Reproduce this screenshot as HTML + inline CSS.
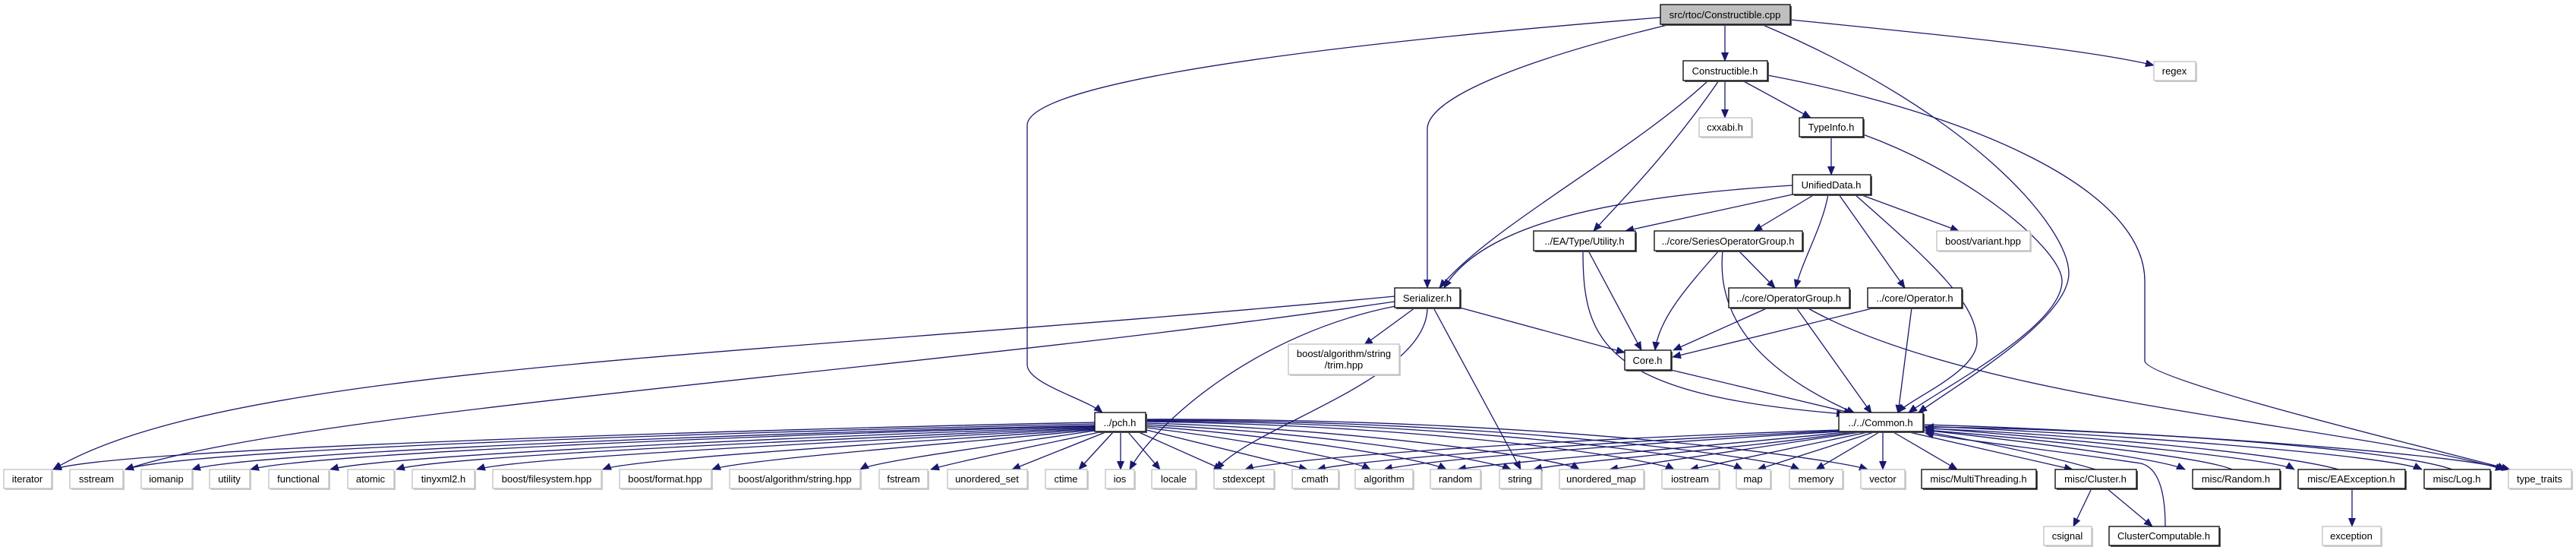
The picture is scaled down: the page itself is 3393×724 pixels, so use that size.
<!DOCTYPE html>
<html><head><meta charset="utf-8"><style>
html,body{margin:0;padding:0;background:#fff;}
svg{display:block;}
text{font-family:"Liberation Sans",sans-serif;font-size:13px;fill:#000;}
.e{fill:none;stroke:#191970;stroke-width:1.3;marker-end:url(#a);}
.d{fill:#fff;stroke:#000;stroke-width:1.3;}
.x{fill:#fff;stroke:#bfbfbf;stroke-width:1.3;}
.sd{fill:#555;}
.sx{fill:#ccc;}
</style></head><body>
<svg width="3393" height="724" viewBox="0 0 3393 724" xmlns="http://www.w3.org/2000/svg">
<defs><marker id="a" markerUnits="userSpaceOnUse" markerWidth="12" markerHeight="10" refX="11" refY="5" orient="auto"><path d="M0,0 L12,5 L0,10 Z" fill="#191970"/></marker></defs>
<g>
<path class="e" d="M2187,23 C1600,70 1353,120 1353,165 L1353,480 C1353,505 1430,525 1452,543"/>
<path class="e" d="M2200,32 C2000,80 1880,130 1880,170 L1880,379"/>
<path class="e" d="M2272,32 L2272,80"/>
<path class="e" d="M2320,32 C2600,150 2725,300 2725,360 C2725,420 2580,505 2527,543"/>
<path class="e" d="M2358,26 C2550,45 2750,65 2837,86"/>
<path class="e" d="M2328,99 C2600,150 2825,250 2825,370 L2825,475 C2825,500 3200,590 3306,618"/>
<path class="e" d="M2272,106 L2272,155"/>
<path class="e" d="M2295,106 L2385,155"/>
<path class="e" d="M2250,106 C2150,200 1960,300 1896,379"/>
<path class="e" d="M2264,106 C2200,200 2130,270 2099,304"/>
<path class="e" d="M2412,180 L2412,230"/>
<path class="e" d="M2454,177 C2600,230 2716,330 2716,370 C2716,430 2560,510 2514,543"/>
<path class="e" d="M2361,244 C2100,260 1950,300 1902,379"/>
<path class="e" d="M2361,256 L2141,304"/>
<path class="e" d="M2390,256 L2310,304"/>
<path class="e" d="M2408,256 C2400,300 2375,340 2365,379"/>
<path class="e" d="M2422,256 L2509,379"/>
<path class="e" d="M2443,256 C2550,350 2604,400 2604,450 C2604,490 2515,525 2500,543"/>
<path class="e" d="M2450,256 L2580,304"/>
<path class="e" d="M2092,330 L2162,461"/>
<path class="e" d="M2085,330 C2085,450 2110,520 2430,545"/>
<path class="e" d="M2264,330 C2220,380 2185,420 2180,461"/>
<path class="e" d="M2290,330 L2338,379"/>
<path class="e" d="M2269,330 C2260,420 2320,490 2443,544"/>
<path class="e" d="M1923,405 L2140,464"/>
<path class="e" d="M1864,405 L1797,454"/>
<path class="e" d="M1888,405 L2003,618"/>
<path class="e" d="M1880,405 C1880,500 1650,560 1602,618"/>
<path class="e" d="M1838,403 C1650,440 1520,560 1488,618"/>
<path class="e" d="M1837,390 C1000,470 300,480 70,618"/>
<path class="e" d="M1837,397 C1200,490 400,540 165,618"/>
<path class="e" d="M2201,487 L2440,544"/>
<path class="e" d="M2329,405 L2204,461"/>
<path class="e" d="M2366,405 L2465,544"/>
<path class="e" d="M2380,405 C2600,530 3100,560 3298,618"/>
<path class="e" d="M2470,405 L2203,470"/>
<path class="e" d="M2518,405 L2500,544"/>
<!-- pch edges -->
<path class="e" d="M1442,556 C1000,565 150,590 70,618"/>
<path class="e" d="M1442,558 C1000,568 250,590 165,618"/>
<path class="e" d="M1442,560 C1000,570 330,595 253,618"/>
<path class="e" d="M1442,561 C1000,572 400,598 330,618"/>
<path class="e" d="M1442,562 C1050,575 500,600 435,618"/>
<path class="e" d="M1442,563 C1100,578 580,600 522,618"/>
<path class="e" d="M1442,564 C1150,580 680,602 628,618"/>
<path class="e" d="M1442,565 C1200,582 830,604 794,618"/>
<path class="e" d="M1442,566 C1250,584 970,606 938,618"/>
<path class="e" d="M1442,567 C1300,588 1150,608 1133,618"/>
<path class="e" d="M1448,569 C1350,590 1250,610 1226,618"/>
<path class="e" d="M1456,569 L1333,618"/>
<path class="e" d="M1466,569 L1421,618"/>
<path class="e" d="M1476,569 L1476,618"/>
<path class="e" d="M1486,569 L1528,618"/>
<path class="e" d="M1500,569 L1610,618"/>
<path class="e" d="M1510,566 L1722,618"/>
<path class="e" d="M1510,563 C1650,580 1780,605 1805,618"/>
<path class="e" d="M1510,561 C1700,575 1880,605 1905,618"/>
<path class="e" d="M1510,559 C1750,570 1960,605 1990,618"/>
<path class="e" d="M1510,557 C1800,565 2060,605 2080,618"/>
<path class="e" d="M1510,555 C1900,560 2180,605 2205,618"/>
<path class="e" d="M1510,554 C1950,556 2270,605 2295,618"/>
<path class="e" d="M1510,553 C2000,553 2340,605 2370,618"/>
<path class="e" d="M1510,552 C2050,550 2420,605 2460,618"/>
<!-- Common edges -->
<path class="e" d="M2424,566 C2000,580 1680,605 1640,618"/>
<path class="e" d="M2424,567 C2100,582 1790,605 1735,618"/>
<path class="e" d="M2424,568 C2150,584 1880,605 1823,618"/>
<path class="e" d="M2430,569 C2250,588 1980,608 1920,618"/>
<path class="e" d="M2440,569 C2300,590 2060,608 2020,618"/>
<path class="e" d="M2450,569 L2120,618"/>
<path class="e" d="M2460,569 L2226,618"/>
<path class="e" d="M2468,569 L2315,618"/>
<path class="e" d="M2475,569 L2392,618"/>
<path class="e" d="M2480,569 L2480,618"/>
<path class="e" d="M2494,569 L2578,618"/>
<path class="e" d="M2515,569 L2730,618"/>
<path class="e" d="M2534,566 C2700,585 2850,605 2878,618"/>
<path class="e" d="M2534,563 C2750,580 3000,605 3022,618"/>
<path class="e" d="M2534,561 C2800,572 3150,600 3190,618"/>
<path class="e" d="M2534,559 C2850,568 3260,600 3300,618"/>
<path class="e" d="M2760,618 C2700,600 2600,580 2536,568"/>
<path class="e" d="M2940,618 C2900,600 2650,575 2536,566"/>
<path class="e" d="M3080,618 C3000,595 2700,570 2536,564"/>
<path class="e" d="M3230,618 C3150,590 2800,565 2536,562"/>
<path class="e" d="M2852,693 C2852,640 2840,615 2820,610 C2700,592 2570,578 2536,570"/>
<path class="e" d="M2755,643 L2731,693"/>
<path class="e" d="M2775,643 L2835,693"/>
<path class="e" d="M3098,643 L3098,693"/>
</g>
<g>
<!-- documented nodes -->
<rect x="2189" y="8" width="171" height="26" class="sd"/><rect x="2187" y="6" width="171" height="26" fill="#bfbfbf" stroke="#000" stroke-width="1.3"/><text x="2272" y="24" text-anchor="middle">src/rtoc/Constructible.cpp</text>
<rect x="2219" y="82" width="111" height="26" class="sd"/><rect x="2217" y="80" width="111" height="26" class="d"/><text x="2272" y="98" text-anchor="middle">Constructible.h</text>
<rect x="2372" y="157" width="84" height="25" class="sd"/><rect x="2370" y="155" width="84" height="25" class="d"/><text x="2412" y="172" text-anchor="middle">TypeInfo.h</text>
<rect x="2363" y="232" width="103" height="26" class="sd"/><rect x="2361" y="230" width="103" height="26" class="d"/><text x="2412" y="248" text-anchor="middle">UnifiedData.h</text>
<rect x="2022" y="306" width="134" height="26" class="sd"/><rect x="2020" y="304" width="134" height="26" class="d"/><text x="2087" y="322" text-anchor="middle">../EA/Type/Utility.h</text>
<rect x="2181" y="306" width="195" height="26" class="sd"/><rect x="2179" y="304" width="195" height="26" class="d"/><text x="2276" y="322" text-anchor="middle">../core/SeriesOperatorGroup.h</text>
<rect x="1839" y="381" width="86" height="26" class="sd"/><rect x="1837" y="379" width="86" height="26" class="d"/><text x="1880" y="397" text-anchor="middle">Serializer.h</text>
<rect x="2279" y="381" width="159" height="26" class="sd"/><rect x="2277" y="379" width="159" height="26" class="d"/><text x="2356" y="397" text-anchor="middle">../core/OperatorGroup.h</text>
<rect x="2462" y="381" width="124" height="26" class="sd"/><rect x="2460" y="379" width="124" height="26" class="d"/><text x="2522" y="397" text-anchor="middle">../core/Operator.h</text>
<rect x="2142" y="463" width="61" height="26" class="sd"/><rect x="2140" y="461" width="61" height="26" class="d"/><text x="2170" y="479" text-anchor="middle">Core.h</text>
<rect x="1444" y="545" width="67" height="25" class="sd"/><rect x="1442" y="543" width="67" height="25" class="d"/><text x="1475" y="561" text-anchor="middle">../pch.h</text>
<rect x="2424" y="545" width="111" height="25" class="sd"/><rect x="2422" y="543" width="111" height="25" class="d"/><text x="2477" y="561" text-anchor="middle">../../Common.h</text>
<rect x="2533" y="620" width="151" height="25" class="sd"/><rect x="2531" y="618" width="151" height="25" class="d"/><text x="2606" y="635" text-anchor="middle">misc/MultiThreading.h</text>
<rect x="2709" y="620" width="107" height="25" class="sd"/><rect x="2707" y="618" width="107" height="25" class="d"/><text x="2760" y="635" text-anchor="middle">misc/Cluster.h</text>
<rect x="2890" y="620" width="115" height="25" class="sd"/><rect x="2888" y="618" width="115" height="25" class="d"/><text x="2945" y="635" text-anchor="middle">misc/Random.h</text>
<rect x="3029" y="620" width="141" height="25" class="sd"/><rect x="3027" y="618" width="141" height="25" class="d"/><text x="3097" y="635" text-anchor="middle">misc/EAException.h</text>
<rect x="3195" y="620" width="87" height="25" class="sd"/><rect x="3193" y="618" width="87" height="25" class="d"/><text x="3236" y="635" text-anchor="middle">misc/Log.h</text>
<rect x="2780" y="695" width="145" height="25" class="sd"/><rect x="2778" y="693" width="145" height="25" class="d"/><text x="2850" y="710" text-anchor="middle">ClusterComputable.h</text>
<!-- external nodes -->
<rect x="2839" y="83" width="55" height="25" class="sx"/><rect x="2837" y="81" width="55" height="25" class="x"/><text x="2864" y="98" text-anchor="middle">regex</text>
<rect x="2240" y="157" width="69" height="25" class="sx"/><rect x="2238" y="155" width="69" height="25" class="x"/><text x="2272" y="172" text-anchor="middle">cxxabi.h</text>
<rect x="2553" y="306" width="123" height="26" class="sx"/><rect x="2551" y="304" width="123" height="26" class="x"/><text x="2612" y="322" text-anchor="middle">boost/variant.hpp</text>
<rect x="1699" y="455" width="146" height="40" class="sx"/><rect x="1697" y="453" width="146" height="40" class="x"/><text x="1770" y="470" text-anchor="middle">boost/algorithm/string</text><text x="1770" y="485" text-anchor="middle">/trim.hpp</text>
<g id="bot">
<rect x="7" y="620" width="63" height="25" class="sx"/><rect x="5" y="618" width="63" height="25" class="x"/><text x="36" y="635" text-anchor="middle">iterator</text>
<rect x="94" y="620" width="70" height="25" class="sx"/><rect x="92" y="618" width="70" height="25" class="x"/><text x="127" y="635" text-anchor="middle">sstream</text>
<rect x="188" y="620" width="67" height="25" class="sx"/><rect x="186" y="618" width="67" height="25" class="x"/><text x="219" y="635" text-anchor="middle">iomanip</text>
<rect x="278" y="620" width="53" height="25" class="sx"/><rect x="276" y="618" width="53" height="25" class="x"/><text x="302" y="635" text-anchor="middle">utility</text>
<rect x="356" y="620" width="79" height="25" class="sx"/><rect x="354" y="618" width="79" height="25" class="x"/><text x="393" y="635" text-anchor="middle">functional</text>
<rect x="460" y="620" width="61" height="25" class="sx"/><rect x="458" y="618" width="61" height="25" class="x"/><text x="488" y="635" text-anchor="middle">atomic</text>
<rect x="545" y="620" width="82" height="25" class="sx"/><rect x="543" y="618" width="82" height="25" class="x"/><text x="584" y="635" text-anchor="middle">tinyxml2.h</text>
<rect x="651" y="620" width="143" height="25" class="sx"/><rect x="649" y="618" width="143" height="25" class="x"/><text x="720" y="635" text-anchor="middle">boost/filesystem.hpp</text>
<rect x="818" y="620" width="121" height="25" class="sx"/><rect x="816" y="618" width="121" height="25" class="x"/><text x="876" y="635" text-anchor="middle">boost/format.hpp</text>
<rect x="963" y="620" width="172" height="25" class="sx"/><rect x="961" y="618" width="172" height="25" class="x"/><text x="1047" y="635" text-anchor="middle">boost/algorithm/string.hpp</text>
<rect x="1160" y="620" width="64" height="25" class="sx"/><rect x="1158" y="618" width="64" height="25" class="x"/><text x="1190" y="635" text-anchor="middle">fstream</text>
<rect x="1250" y="620" width="105" height="25" class="sx"/><rect x="1248" y="618" width="105" height="25" class="x"/><text x="1300" y="635" text-anchor="middle">unordered_set</text>
<rect x="1379" y="620" width="55" height="25" class="sx"/><rect x="1377" y="618" width="55" height="25" class="x"/><text x="1404" y="635" text-anchor="middle">ctime</text>
<rect x="1458" y="620" width="38" height="25" class="sx"/><rect x="1456" y="618" width="38" height="25" class="x"/><text x="1475" y="635" text-anchor="middle">ios</text>
<rect x="1519" y="620" width="58" height="25" class="sx"/><rect x="1517" y="618" width="58" height="25" class="x"/><text x="1546" y="635" text-anchor="middle">locale</text>
<rect x="1601" y="620" width="79" height="25" class="sx"/><rect x="1599" y="618" width="79" height="25" class="x"/><text x="1638" y="635" text-anchor="middle">stdexcept</text>
<rect x="1704" y="620" width="61" height="25" class="sx"/><rect x="1702" y="618" width="61" height="25" class="x"/><text x="1732" y="635" text-anchor="middle">cmath</text>
<rect x="1787" y="620" width="76" height="25" class="sx"/><rect x="1785" y="618" width="76" height="25" class="x"/><text x="1823" y="635" text-anchor="middle">algorithm</text>
<rect x="1886" y="620" width="66" height="25" class="sx"/><rect x="1884" y="618" width="66" height="25" class="x"/><text x="1917" y="635" text-anchor="middle">random</text>
<rect x="1977" y="620" width="55" height="25" class="sx"/><rect x="1975" y="618" width="55" height="25" class="x"/><text x="2002" y="635" text-anchor="middle">string</text>
<rect x="2056" y="620" width="111" height="25" class="sx"/><rect x="2054" y="618" width="111" height="25" class="x"/><text x="2109" y="635" text-anchor="middle">unordered_map</text>
<rect x="2191" y="620" width="75" height="25" class="sx"/><rect x="2189" y="618" width="75" height="25" class="x"/><text x="2226" y="635" text-anchor="middle">iostream</text>
<rect x="2289" y="620" width="45" height="25" class="sx"/><rect x="2287" y="618" width="45" height="25" class="x"/><text x="2309" y="635" text-anchor="middle">map</text>
<rect x="2359" y="620" width="70" height="25" class="sx"/><rect x="2357" y="618" width="70" height="25" class="x"/><text x="2392" y="635" text-anchor="middle">memory</text>
<rect x="2453" y="620" width="58" height="25" class="sx"/><rect x="2451" y="618" width="58" height="25" class="x"/><text x="2480" y="635" text-anchor="middle">vector</text>
<rect x="3306" y="620" width="83" height="25" class="sx"/><rect x="3304" y="618" width="83" height="25" class="x"/><text x="3345" y="635" text-anchor="middle">type_traits</text>
<rect x="2694" y="695" width="63" height="25" class="sx"/><rect x="2692" y="693" width="63" height="25" class="x"/><text x="2723" y="710" text-anchor="middle">csignal</text>
<rect x="3061" y="695" width="77" height="25" class="sx"/><rect x="3059" y="693" width="77" height="25" class="x"/><text x="3097" y="710" text-anchor="middle">exception</text>
</g>
</g>
</svg>
</body></html>
